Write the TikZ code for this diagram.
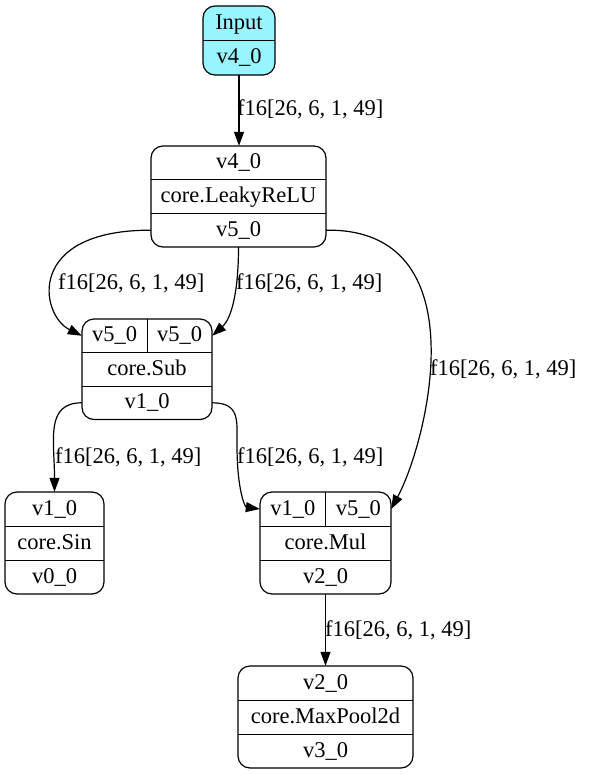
\documentclass[tikz,border=0pt]{standalone}
\usepackage{fontspec}
\setmainfont{Liberation Serif}
\usetikzlibrary{arrows.meta}
\definecolor{inputfill}{HTML}{98F5FF}
\newcommand\dgfont{\fontsize{22.5}{27}\selectfont}
\tikzset{
  rec/.style={draw, rounded corners=12pt, line width=1.2pt, inner sep=0pt},
  cell/.style={inner sep=0pt, font=\dgfont, text height=16pt, text depth=4pt},
  div/.style={line width=1.2pt},
  lbl/.style={anchor=west, inner sep=0pt, font=\dgfont, text height=16pt, text depth=4pt},
  edge/.style={line width=1.2pt, -{Triangle[length=14pt,width=10pt]}},
}
\begin{document}
\begin{tikzpicture}[x=1pt,y=-1pt]
\useasboundingbox (0,0) rectangle (589,774);
% Input
\node[rec, fill=inputfill, minimum width=72pt, minimum height=69pt] (inp) at (239,40.5) {};
\node[cell, minimum width=72pt, minimum height=34pt] (inp-t) at (239,23) {Input};
\node[cell, minimum width=72pt, minimum height=35pt] (inp-b) at (239,57.5) {v4\_0};
\draw[div] (inp-t.south west) -- (inp-t.south east);
% LeakyReLU
\node[rec, minimum width=175pt, minimum height=101pt] (relu) at (238.5,196.5) {};
\node[cell, minimum width=175pt, minimum height=33.67pt] (relu-in) at (238.5,162.83) {v4\_0};
\node[cell, minimum width=175pt, minimum height=33.67pt] (relu-op) at (238.5,196.5) {core.LeakyReLU};
\node[cell, minimum width=175pt, minimum height=33.67pt] (relu-out) at (238.5,230.17) {v5\_0};
\draw[div] (relu-in.south west) -- (relu-in.south east);
\draw[div] (relu-op.south west) -- (relu-op.south east);
% Sub
\node[rec, minimum width=130pt, minimum height=100.5pt] (sub) at (147,369.25) {};
\node[cell, minimum width=65pt, minimum height=33.5pt] (sub-a) at (114.5,335.75) {v5\_0};
\node[cell, minimum width=65pt, minimum height=33.5pt] (sub-b) at (179.5,335.75) {v5\_0};
\node[cell, minimum width=130pt, minimum height=33.5pt] (sub-op) at (147,369.25) {core.Sub};
\node[cell, minimum width=130pt, minimum height=33.5pt] (sub-out) at (147,402.75) {v1\_0};
\draw[div] (sub-a.south west) -- (sub-b.south east);
\draw[div] (sub-a.north east) -- (sub-a.south east);
\draw[div] (sub-op.south west) -- (sub-op.south east);
% Sin
\node[rec, minimum width=99pt, minimum height=102pt] (sin) at (54.5,543) {};
\node[cell, minimum width=99pt, minimum height=34pt] (sin-in) at (54.5,509) {v1\_0};
\node[cell, minimum width=99pt, minimum height=34pt] (sin-op) at (54.5,543) {core.Sin};
\node[cell, minimum width=99pt, minimum height=34pt] (sin-out) at (54.5,577) {v0\_0};
\draw[div] (sin-in.south west) -- (sin-in.south east);
\draw[div] (sin-op.south west) -- (sin-op.south east);
% Mul
\node[rec, minimum width=131pt, minimum height=102pt] (mul) at (325.5,543) {};
\node[cell, minimum width=65.5pt, minimum height=34pt] (mul-a) at (292.75,509) {v1\_0};
\node[cell, minimum width=65.5pt, minimum height=34pt] (mul-b) at (358.25,509) {v5\_0};
\node[cell, minimum width=131pt, minimum height=34pt] (mul-op) at (325.5,543) {core.Mul};
\node[cell, minimum width=131pt, minimum height=34pt] (mul-out) at (325.5,577) {v2\_0};
\draw[div] (mul-a.south west) -- (mul-b.south east);
\draw[div] (mul-a.north east) -- (mul-a.south east);
\draw[div] (mul-op.south west) -- (mul-op.south east);
% MaxPool2d
\node[rec, minimum width=175pt, minimum height=102pt] (mp) at (325.5,717) {};
\node[cell, minimum width=175pt, minimum height=34pt] (mp-in) at (325.5,683) {v2\_0};
\node[cell, minimum width=175pt, minimum height=34pt] (mp-op) at (325.5,717) {core.MaxPool2d};
\node[cell, minimum width=175pt, minimum height=34pt] (mp-out) at (325.5,751) {v3\_0};
\draw[div] (mp-in.south west) -- (mp-in.south east);
\draw[div] (mp-op.south west) -- (mp-op.south east);
% edges
\draw[edge] (inp-b.south) -- (inp-b.south |- relu-in.north);
\draw[edge] (relu-out.west) .. controls (25,230) and (40,315) .. (sub-a.west);
\draw[edge] (relu-out.south) .. controls (238.5,290) and (232,318) .. (sub-b.east);
\draw[edge] (relu-out.east) .. controls (480,228) and (428,440) .. (mul-b.east);
\draw[edge] (sub-out.west) .. controls (45,403) and (54.5,440) .. (sin-in.north);
\draw[edge] (sub-out.east) .. controls (240,403) and (237,420) .. (237,445) .. controls (237,490) and (245,507) .. (mul-a.west);
\draw[edge] (mul-out.south) -- (mul-out.south |- mp-in.north);
% labels
\node[lbl] (l1) at (237,109) {f16[26, 6, 1, 49]};
\node[lbl] (l2) at (58,283) {f16[26, 6, 1, 49]};
\node[lbl] (l3) at (236,283) {f16[26, 6, 1, 49]};
\node[lbl] (l4) at (430,369) {f16[26, 6, 1, 49]};
\node[lbl] (l5) at (55,457) {f16[26, 6, 1, 49]};
\node[lbl] (l6) at (237,457) {f16[26, 6, 1, 49]};
\node[lbl] (l7) at (325,630) {f16[26, 6, 1, 49]};
\end{tikzpicture}
\end{document}
